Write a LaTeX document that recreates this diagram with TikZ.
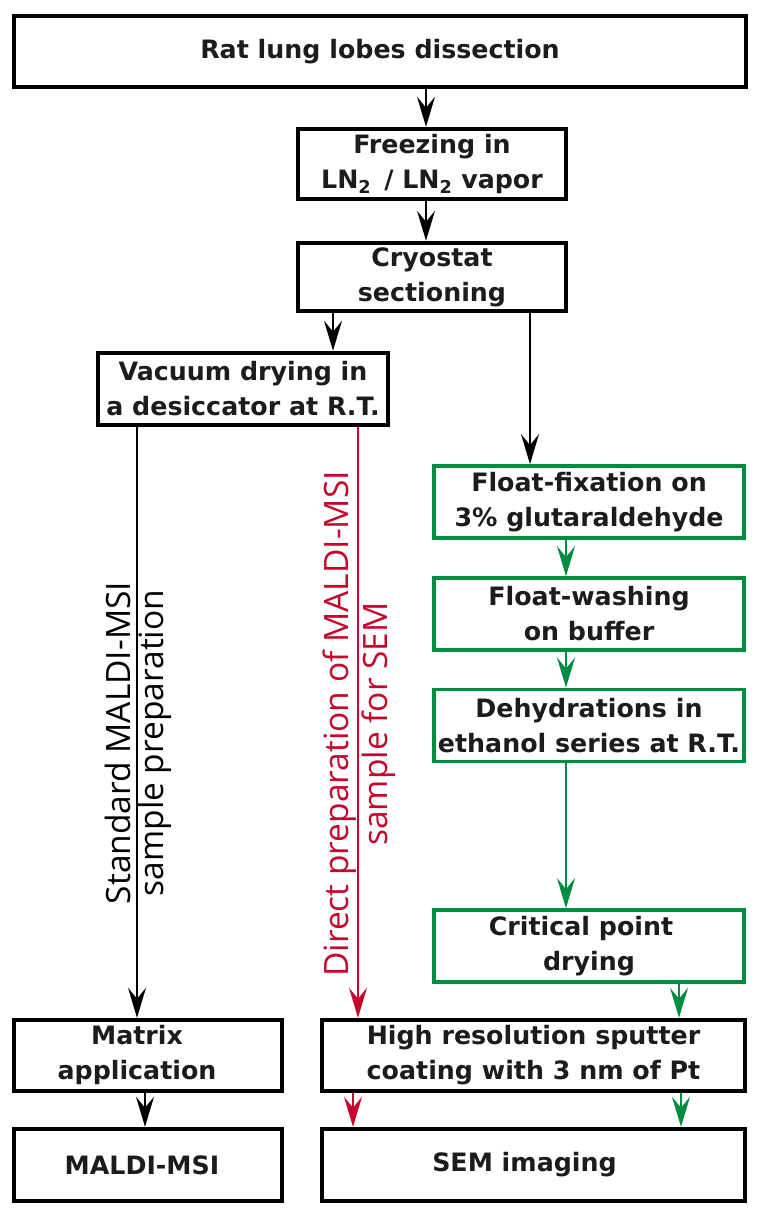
\documentclass[tikz,border=0pt]{standalone}
\usepackage{fontspec}
\setmainfont{DejaVu Sans}
\newfontfamily\osans{Open Sans}
\usetikzlibrary{arrows.meta,calc}
\definecolor{myred}{RGB}{196,8,44}
\definecolor{mygreen}{RGB}{0,140,64}
\definecolor{txtgray}{RGB}{28,28,28}
\begin{document}
\begin{tikzpicture}[x=1pt,y=-1pt,
  box/.style={draw=black,line width=4.5pt,fill=white,inner sep=0pt,align=center,
    text=txtgray,font=\bfseries\fontsize{25.3}{35}\selectfont},
  gbox/.style={box,draw=mygreen,line width=3.8pt},
  arr/.style={line width=2pt,-{Stealth[length=30pt,width=18pt,inset=11pt]}},
  garr/.style={arr,draw=mygreen,fill=mygreen,line width=1.6pt},
  rarr/.style={arr,draw=myred,fill=myred,line width=1.6pt},
  rot/.style={rotate=90,align=center,inner sep=0pt,font=\osans\fontsize{33.5}{33}\selectfont}]
\useasboundingbox (0,0) rectangle (758,1215);
\fill[white] (0,0) rectangle (758,1215);
% boxes
\node[box,minimum width=732pt,minimum height=71pt] (rat) at (380,51.5) {Rat lung lobes dissection};
\node[box,minimum width=268pt,minimum height=70pt] (freeze) at (432,164) {Freezing in\\LN\textsubscript{2}\,\ / LN\textsubscript{2} vapor};
\node[box,minimum width=268pt,minimum height=68pt] (cryo) at (432,277) {Cryostat\\sectioning};
\node[box,minimum width=290pt,minimum height=72pt] (vac) at (243,389) {Vacuum drying in\\a desiccator at R.T.};
\node[gbox,minimum width=310pt,minimum height=72pt] (fix) at (589,502) {Float-fixation on\\3\% glutaraldehyde};
\node[gbox,minimum width=310pt,minimum height=72pt] (wash) at (589,614) {Float-washing\\on buffer};
\node[gbox,minimum width=310pt,minimum height=72pt] (dehyd) at (589,725.5) {Dehydrations in\\ethanol series at R.T.};
\node[gbox,minimum width=310pt,minimum height=72pt] (cpd) at (589,946) {Critical point\hspace*{16pt}\\drying\hspace*{0pt}};
\node[box,minimum width=268pt,minimum height=71pt] (matrix) at (148,1055.5) {Matrix\hspace*{22pt}\\application\hspace*{22pt}};
\node[box,minimum width=423pt,minimum height=71pt] (sputter) at (533.5,1055.5) {High resolution sputter\\coating with 3 nm of Pt};
\node[box,minimum width=268pt,minimum height=72pt] (maldi) at (148,1165) {MALDI-MSI\hspace*{12pt}};
\node[box,minimum width=423pt,minimum height=72pt] (sem) at (533.5,1165) {SEM imaging\hspace*{18pt}};
% connectors
\draw[arr] (rat.south -| 426,0) -- (freeze.north -| 426,0);
\draw[arr] (freeze.south -| 426,0) -- (cryo.north -| 426,0);
\draw[arr] (cryo.south -| 333,0) -- (vac.north -| 333,0);
\draw[arr] (cryo.south -| 530,0) -- (fix.north -| 530,0);
\draw[garr] (fix.south -| 566,0) -- (wash.north -| 566,0);
\draw[garr] (wash.south -| 566,0) -- (dehyd.north -| 566,0);
\draw[garr] (dehyd.south -| 566,0) -- (cpd.north -| 566,0);
\draw[garr] (cpd.south -| 679,0) -- (sputter.north -| 679,0);
\draw[arr] (vac.south -| 137,0) -- (matrix.north -| 137,0);
\draw[rarr] (vac.south -| 358,0) -- (sputter.north -| 358,0);
\draw[arr] (matrix.south -| 145,0) -- (maldi.north -| 145,0);
\draw[rarr] (sputter.south -| 353,0) -- (sem.north -| 353,0);
\draw[garr] (sputter.south -| 681,0) -- (sem.north -| 681,0);
% rotated labels
\node[rot,text=black] (stdlbl) at (138,743) {Standard MALDI-MSI\\sample preparation};
\node[rot,text=myred,font=\osans\fontsize{33.5}{39}\selectfont] (directlbl) at (359.5,724) {Direct preparation of MALDI-MSI\\sample for SEM};
\end{tikzpicture}
\end{document}
